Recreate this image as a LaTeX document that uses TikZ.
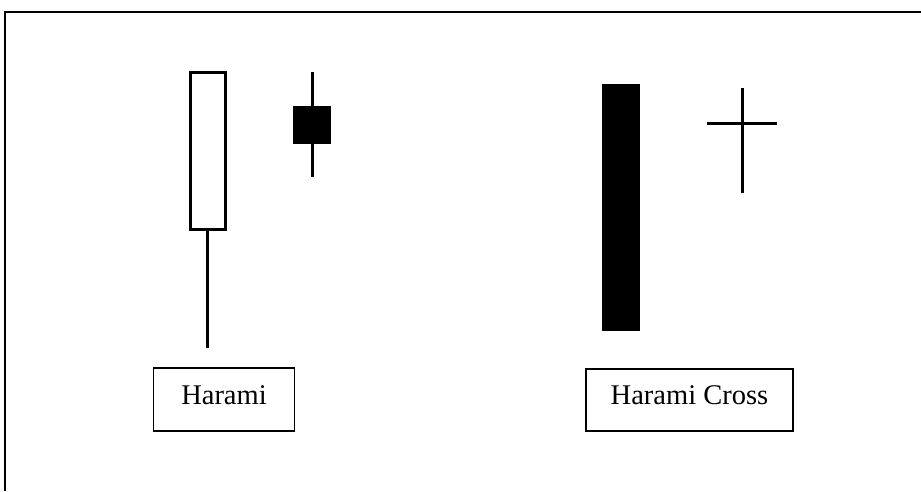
\documentclass[tikz,border=0pt]{standalone}
\usepackage{fontspec}
\setmainfont{Liberation Serif}
\begin{document}
\begin{tikzpicture}[x=1pt,y=-1pt,
  frameline/.style={line width=2pt,black},
  wick/.style={line width=3pt,black},
  whitebody/.style={draw=black,line width=3pt,fill=white,rectangle,inner sep=0pt,outer sep=0pt},
  blackbody/.style={draw=black,line width=1pt,fill=black,rectangle,inner sep=0pt,outer sep=0pt},
  labelbox/.style={draw=black,line width=1.6pt,rectangle,inner sep=0pt,text height=20pt,text depth=11pt,font=\fontsize{28.5}{32}\selectfont}]
\useasboundingbox (0,0) rectangle (921,491);
\fill[white] (0,0) rectangle (921,491);
% frame
\coordinate (fbl) at (5,491);
\coordinate (ftl) at (5,12);
\coordinate (ftr) at (921,12);
\draw[frameline] (fbl) -- (ftl) -- (ftr);
% Harami: white candle
\node[whitebody,minimum width=35pt,minimum height=157pt] (wb) at (207.5,151) {};
\coordinate (wlow) at (207.5,348);
\draw[wick] (wb.south) -- (wlow);
% Harami: small black candle
\coordinate (stop) at (312,72);
\coordinate (sbot) at (312,177);
\draw[wick] (stop) -- (sbot);
\node[blackbody,minimum width=37pt,minimum height=37pt] (sb) at (312,125) {};
% Harami Cross: big black candle
\node[blackbody,minimum width=37pt,minimum height=246pt] (bb) at (621,207.5) {};
% Harami Cross: doji cross
\coordinate (ctop) at (742,88);
\coordinate (cbot) at (742,193);
\coordinate (cleft) at (707,123);
\coordinate (cright) at (777,123);
\draw[wick] (ctop) -- (cbot);
\draw[wick] (cleft) -- (cright);
% labels
\node[labelbox,minimum width=141pt,minimum height=63pt] (l1) at (224,399.5) {Harami};
\node[labelbox,minimum width=207pt,minimum height=62pt] (l2) at (689.5,400) {Harami Cross};
\end{tikzpicture}
\end{document}
